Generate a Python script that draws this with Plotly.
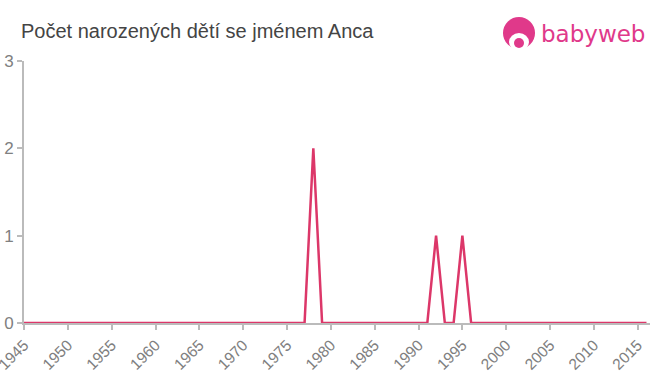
import plotly.graph_objects as go

title_text = "Počet narozených dětí se jménem Anca"
years = list(range(1945, 2017))
counts = [
    0, 0, 0, 0, 0, 0, 0, 0, 0, 0,   # 1945-1954
    0, 0, 0, 0, 0, 0, 0, 0, 0, 0,   # 1955-1964
    0, 0, 0, 0, 0, 0, 0, 0, 0, 0,   # 1965-1974
    0, 0, 0, 2, 0, 0, 0, 0, 0, 0,   # 1975-1984
    0, 0, 0, 0, 0, 0, 0, 1, 0, 0,   # 1985-1994
    1, 0, 0, 0, 0, 0, 0, 0, 0, 0,   # 1995-2004
    0, 0, 0, 0, 0, 0, 0, 0,         # 2005-2012
    0, 0, 0, 0,                     # 2013-2016
]
x_ticks = list(range(1945, 2020, 5))
y_ticks = [0, 1, 2, 3]

W, H = 660, 375
L, R, T, B = 24, 10, 61, 52
pw, ph = W - L - R, H - T - B

def px(x):
    return (x - L) / pw

def py(y):
    return (H - B - y) / ph

fig = go.Figure()
fig.add_trace(go.Scatter(
    x=years, y=counts, mode="lines",
    line=dict(color="#dc3769", width=2.5),
    hoverinfo="x+y", showlegend=False,
))

pink = "#e0398a"
shapes = [
    dict(type="circle", xref="paper", yref="paper",
         x0=px(503), x1=px(535), y0=py(49), y1=py(17),
         fillcolor=pink, line=dict(width=0)),
    dict(type="circle", xref="paper", yref="paper",
         x0=px(509), x1=px(529), y0=py(51), y1=py(33),
         fillcolor="white", line=dict(width=0)),
    dict(type="circle", xref="paper", yref="paper",
         x0=px(514), x1=px(524), y0=py(48), y1=py(38),
         fillcolor=pink, line=dict(width=0)),
    dict(type="rect", xref="paper", yref="paper",
         x0=px(505), x1=px(533), y0=py(33), y1=py(26),
         fillcolor=pink, line=dict(width=0)),
]

annotations = [
    dict(text=title_text, xref="paper", yref="paper", x=px(19), y=py(31),
         xanchor="left", yanchor="middle", showarrow=False,
         font=dict(family="Liberation Sans, Arial, sans-serif", size=20, color="#444444")),
    dict(text="babyweb", xref="paper", yref="paper", x=px(539), y=py(34),
         xanchor="left", yanchor="middle", showarrow=False,
         font=dict(family="DejaVu Sans, sans-serif", size=23, color=pink)),
]

fig.update_layout(
    width=W, height=H,
    margin=dict(l=L, r=R, t=T, b=B, autoexpand=False),
    paper_bgcolor="white", plot_bgcolor="white",
    shapes=shapes, annotations=annotations,
    xaxis=dict(
        range=[1945, 2016.4], tickvals=x_ticks, ticktext=[str(v) for v in x_ticks],
        tickangle=-45, showgrid=False, zeroline=False, automargin=False,
        ticklabeloverflow="allow",
        showline=True, linecolor="#bbbbbb", linewidth=2,
        ticks="outside", tickcolor="#bbbbbb", ticklen=5, tickwidth=2,
        tickfont=dict(family="Liberation Sans, Arial, sans-serif", size=15.5, color="#808080"),
    ),
    yaxis=dict(
        range=[0, 3], tickvals=y_ticks, showgrid=False, zeroline=False, automargin=False,
        showline=True, linecolor="#bbbbbb", linewidth=2,
        ticks="outside", tickcolor="#bbbbbb", ticklen=5, tickwidth=2,
        tickfont=dict(family="Liberation Sans, Arial, sans-serif", size=17, color="#808080"),
    ),
)

fig.write_html("out.html")
